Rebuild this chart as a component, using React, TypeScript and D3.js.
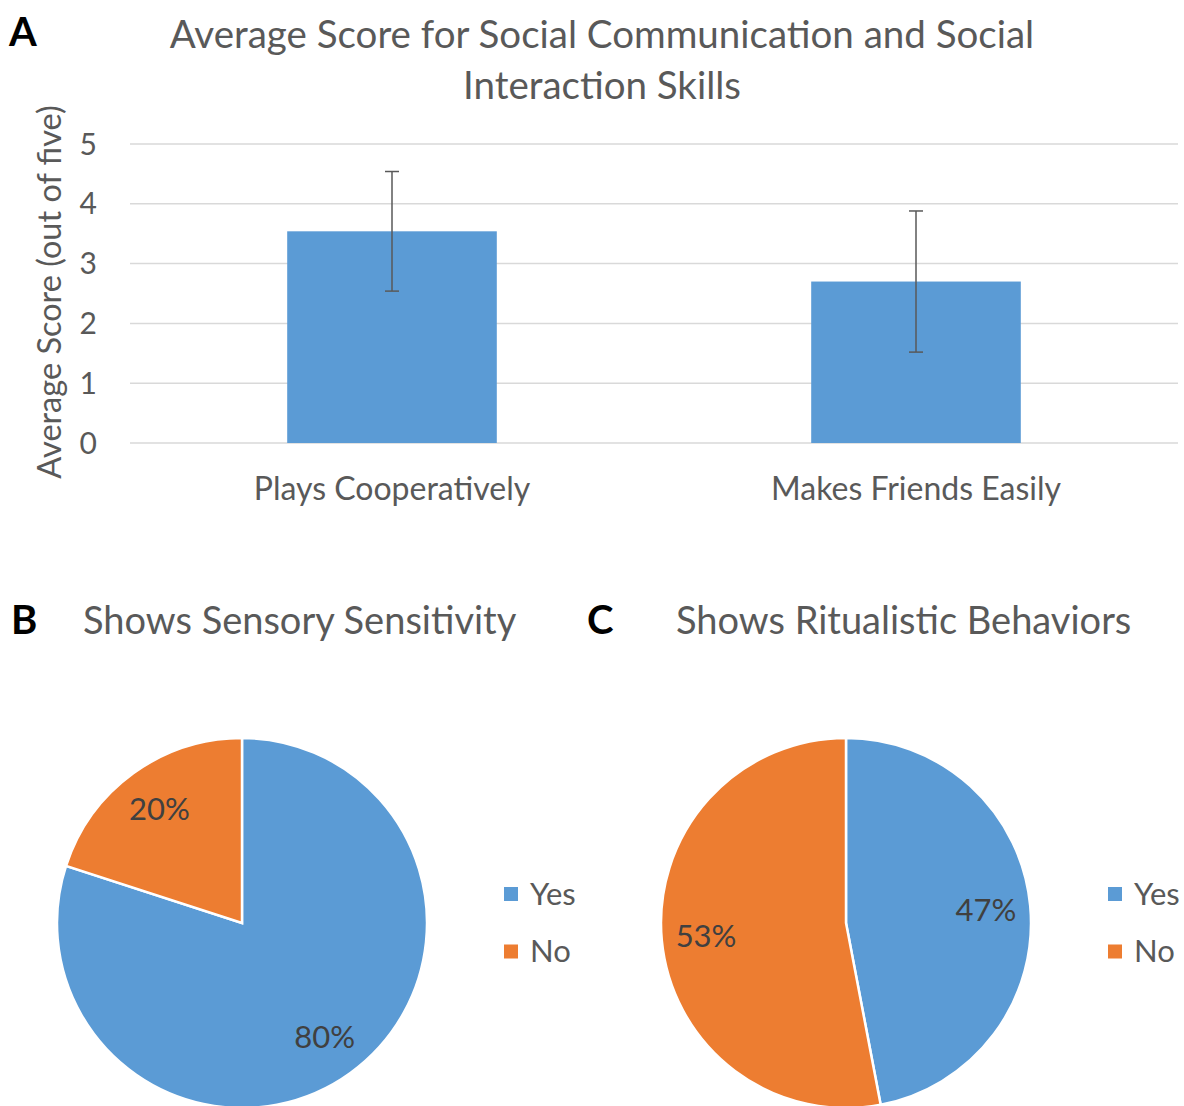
import React from "react";
import * as d3 from "d3";

const categories = ["Plays Cooperatively", "Makes Friends Easily"];
const meanScores = [3.54, 2.7];
const errorMargins = [1.0, 1.18];
const yTicks = [0, 1, 2, 3, 4, 5];
const pieCategories = ["Yes", "No"];
const sensoryValues = [80, 20];
const ritualValues = [47, 53];

const W = 1184;
const H = 1106;
const FONT = "Lato, 'Open Sans', sans-serif";
const BLUE = "#5B9BD5";
const ORANGE = "#ED7D31";
const TEXT = "#595959";
const LABEL = "#404040";

function Pie({ cx, cy, values, title, titleX, letter, letterX, legendX }) {
  const r = 185;
  const pie = d3.pie<number>().sort(null).value((d) => d);
  const arcs = pie(values);
  const arc = d3.arc<d3.PieArcDatum<number>>().innerRadius(0).outerRadius(r);
  const labelArc = d3.arc<d3.PieArcDatum<number>>().innerRadius(r * 0.76).outerRadius(r * 0.76);
  const colors = [BLUE, ORANGE];
  const total = d3.sum(values);
  return (
    <g>
      <text x={letterX} y={634} fontFamily={FONT} fontWeight="bold" fontSize={40} fill="#000">{letter}</text>
      <text x={titleX} y={634} fontFamily={FONT} fontSize={38} fill={TEXT}>{title}</text>
      <g transform={`translate(${cx},${cy})`}>
        {arcs.map((a, i) => (
          <path key={i} d={arc(a) || ""} fill={colors[i]} stroke="#fff" strokeWidth={2.5} />
        ))}
        {arcs.map((a, i) => {
          const [lx, ly] = labelArc.centroid(a);
          return (
            <text key={i} x={lx} y={ly} dy="0.35em" textAnchor="middle" fontFamily={FONT} fontSize={31} fill={LABEL}>
              {`${Math.round((a.data / total) * 100)}%`}
            </text>
          );
        })}
      </g>
      {pieCategories.map((c, i) => (
        <g key={c} transform={`translate(${legendX},${894 + i * 57.5})`}>
          <rect x={0} y={-7} width={14} height={14} fill={colors[i]} />
          <text x={26} y={0} dy="0.35em" fontFamily={FONT} fontSize={31} fill={TEXT}>{c}</text>
        </g>
      ))}
    </g>
  );
}

export default function App() {
  const x = d3.scaleBand<string>().domain(categories).range([130, 1178]).padding(0);
  const y = d3.scaleLinear().domain([0, 5]).range([443, 144]);
  const bw = x.bandwidth() * 0.4;

  return (
    <svg width={W} height={H} style={{ position: "absolute", left: 0, top: 0, background: "#fff" }}>
      <rect width={W} height={H} fill="#fff" />
      {/* Panel A */}
      <text x={9} y={46} fontFamily={FONT} fontWeight="bold" fontSize={40} fill="#000">A</text>
      <text x={602} y={48} textAnchor="middle" fontFamily={FONT} fontSize={38.5} fill={TEXT}>
        Average Score for Social Communication and Social
      </text>
      <text x={602} y={99} textAnchor="middle" fontFamily={FONT} fontSize={38.5} fill={TEXT}>
        Interaction Skills
      </text>
      {yTicks.map((t) => (
        <g key={t}>
          <line x1={130} x2={1178} y1={y(t)} y2={y(t)} stroke="#D9D9D9" strokeWidth={1.5} />
          <text x={97} y={y(t)} dy="0.35em" textAnchor="end" fontFamily={FONT} fontSize={30} fill={TEXT}>{t}</text>
        </g>
      ))}
      <text
        transform={`translate(50,292) rotate(-90)`}
        textAnchor="middle"
        dy="0.35em"
        fontFamily={FONT}
        fontSize={32.5}
        fill={TEXT}
      >
        Average Score (out of five)
      </text>
      {categories.map((c, i) => {
        const cx = (x(c) as number) + x.bandwidth() / 2;
        const v = meanScores[i];
        const e = errorMargins[i];
        return (
          <g key={c}>
            <rect x={cx - bw / 2} y={y(v)} width={bw} height={y(0) - y(v)} fill={BLUE} />
            <line x1={cx} x2={cx} y1={y(v + e)} y2={y(v - e)} stroke="#595959" strokeWidth={1.5} />
            <line x1={cx - 7} x2={cx + 7} y1={y(v + e)} y2={y(v + e)} stroke="#595959" strokeWidth={1.5} />
            <line x1={cx - 7} x2={cx + 7} y1={y(v - e)} y2={y(v - e)} stroke="#595959" strokeWidth={1.5} />
            <text x={cx} y={500} textAnchor="middle" fontFamily={FONT} fontSize={32} fill={TEXT}>{c}</text>
          </g>
        );
      })}
      <Pie cx={242} cy={923} values={sensoryValues} title="Shows Sensory Sensitivity" titleX={83} letter="B" letterX={11} legendX={504} />
      <Pie cx={846} cy={923} values={ritualValues} title="Shows Ritualistic Behaviors" titleX={676} letter="C" letterX={587} legendX={1108} />
    </svg>
  );
}
